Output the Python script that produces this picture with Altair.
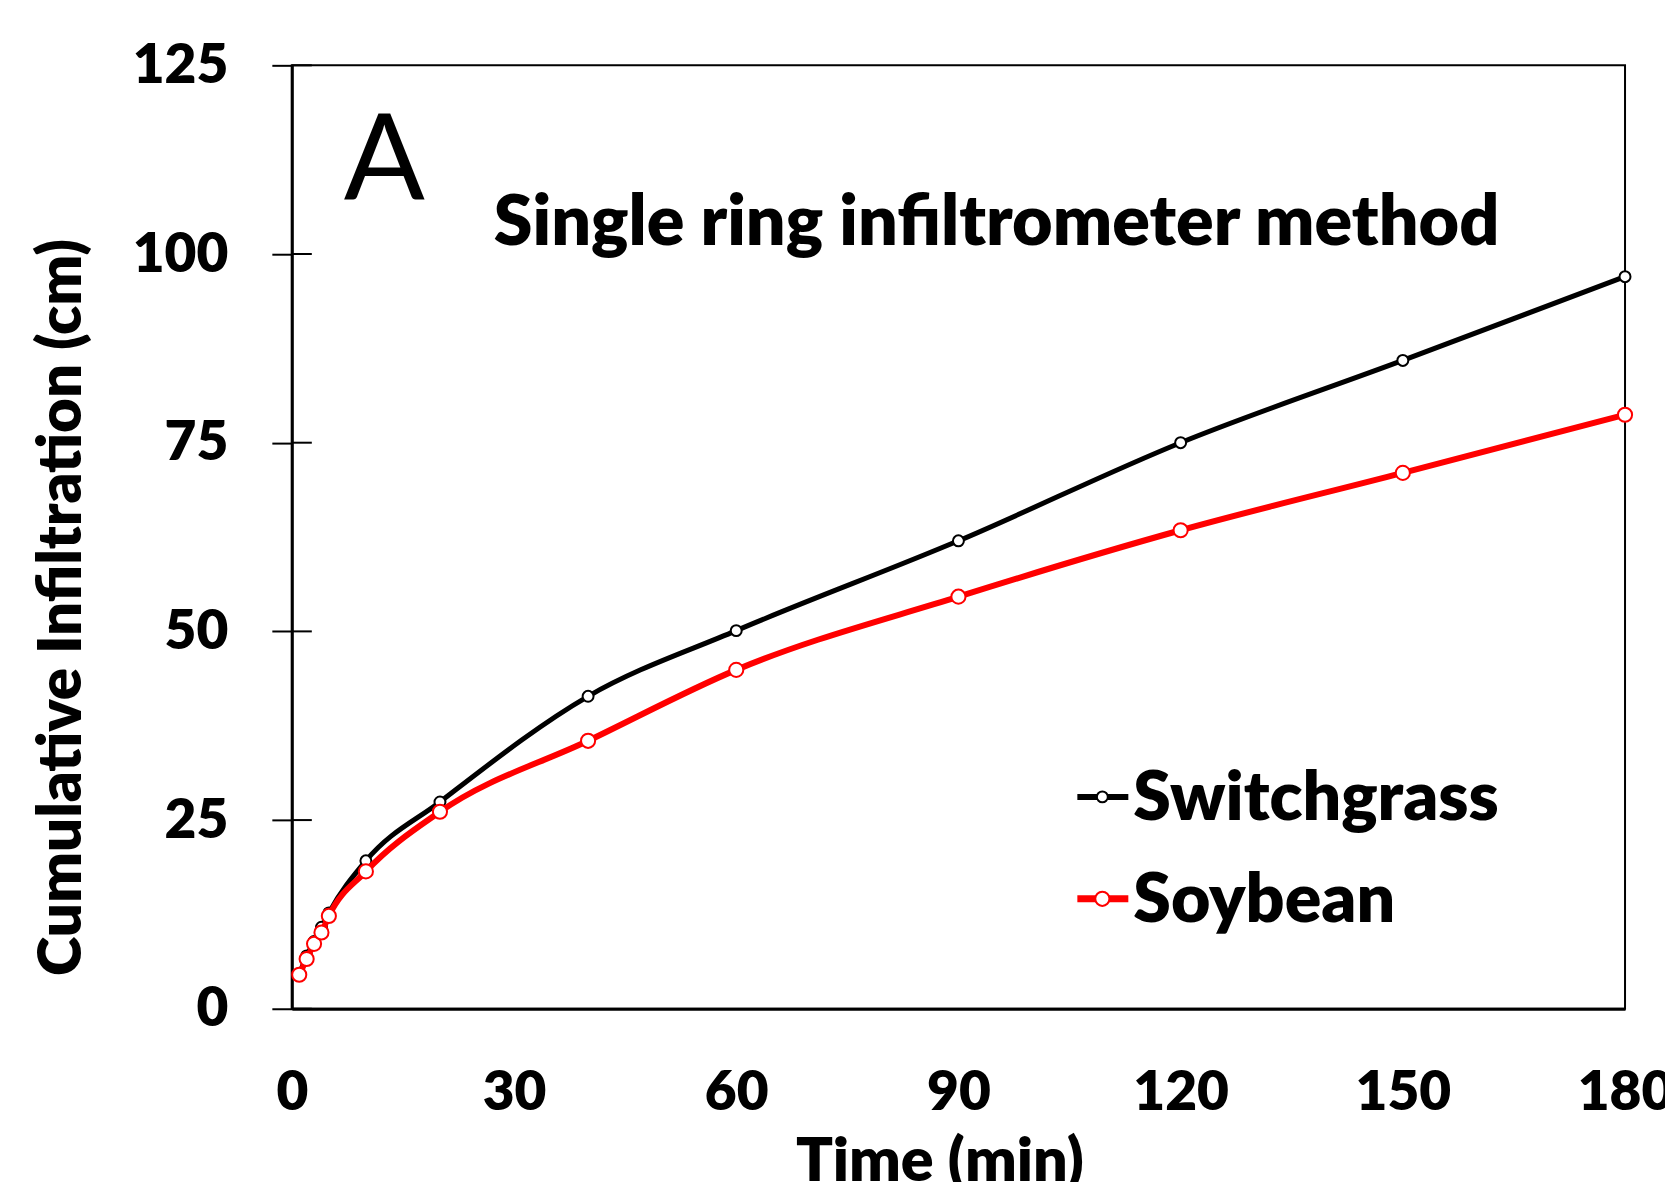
import altair as alt
import pandas as pd

time_min = [1, 2, 3, 4, 5, 10, 20, 40, 60, 90, 120, 150, 180]
switchgrass = [4.6, 7.0, 8.9, 10.8, 12.7, 19.6, 27.4, 41.4, 50.1, 62.0, 75.0, 85.9, 97.0]
soybean = [4.5, 6.6, 8.6, 10.1, 12.3, 18.2, 26.1, 35.5, 44.9, 54.6, 63.4, 71.0, 78.7]
series_names = ["Switchgrass", "Soybean"]
series_colors = ["#000000", "#ff0000"]
y_ticks = [0, 25, 50, 75, 100, 125]
x_ticks = [0, 30, 60, 90, 120, 150, 180]

df = pd.DataFrame({
    "t": time_min * 2,
    "v": switchgrass + soybean,
    "s": [series_names[0]] * len(time_min) + [series_names[1]] * len(time_min),
})
tick_df = pd.DataFrame({"v": y_ticks})
one = pd.DataFrame({"a": [0]})

W, H = 1334, 944
FONT = "Lato"
BOLD = 800

xs = alt.Scale(domain=[0, 180], nice=False)
ys = alt.Scale(domain=[0, 125], nice=False)

x_axis = alt.Axis(values=x_ticks, ticks=False, domainWidth=3, domainColor="black",
                  labelFont=FONT, labelFontSize=55, labelFontWeight=BOLD, labelColor="black",
                  labelPadding=58, labelFlush=False, grid=False,
                  title="Time (min)", titleFont=FONT, titleFontSize=61, titleFontWeight=BOLD,
                  titleColor="black", titleX=648, titleY=124, titleBaseline="top")
y_axis = alt.Axis(values=y_ticks, tickSize=20, tickWidth=2, tickColor="black",
                  domainWidth=3, domainColor="black",
                  labelFont=FONT, labelFontSize=55, labelFontWeight=BOLD, labelColor="black",
                  labelPadding=44, grid=False,
                  title="Cumulative Infiltration (cm)", titleFont=FONT, titleFontSize=60,
                  titleFontWeight=BOLD, titleColor="black", titleX=-198, titleY=542)

def series_layers(name, color, lw, msize):
    base = alt.Chart(df).transform_filter(alt.datum.s == name)
    line = base.mark_line(color=color, strokeWidth=lw, interpolate="monotone").encode(
        x=alt.X("t:Q", scale=xs, axis=x_axis), y=alt.Y("v:Q", scale=ys, axis=y_axis))
    pts = base.mark_point(shape="circle", filled=True, fill="white", stroke=color,
                          strokeWidth=2, size=msize, opacity=1).encode(
        x=alt.X("t:Q", scale=xs), y=alt.Y("v:Q", scale=ys))
    return [line, pts]

inner_ticks = alt.Chart(tick_df).mark_rule(color="black", strokeWidth=2).encode(
    x=alt.value(0), x2=alt.value(20), y=alt.Y("v:Q", scale=ys))

letter = alt.Chart(one).mark_text(text="A", font=FONT, fontSize=120, fontWeight="normal",
                                  align="left", baseline="alphabetic", color="black").encode(
    x=alt.value(52), y=alt.value(135))
subtitle = alt.Chart(one).mark_text(text="Single ring infiltrometer method", font=FONT,
                                    fontSize=70, fontWeight=BOLD, align="left",
                                    baseline="alphabetic", color="black").encode(
    x=alt.value(202), y=alt.value(180))

legend_layers = []
for name, color, ly, lw, ms in [(series_names[0], series_colors[0], 732, 5, 120),
                                (series_names[1], series_colors[1], 834, 6, 200)]:
    legend_layers.append(alt.Chart(one).mark_rule(color=color, strokeWidth=lw + 1).encode(
        x=alt.value(786), x2=alt.value(837), y=alt.value(ly)))
    legend_layers.append(alt.Chart(one).mark_point(shape="circle", filled=True, fill="white",
                                                   stroke=color, strokeWidth=2, size=ms,
                                                   opacity=1).encode(
        x=alt.value(811), y=alt.value(ly)))
    legend_layers.append(alt.Chart(one).mark_text(text=name, font=FONT, fontSize=68,
                                                  fontWeight=BOLD, align="left",
                                                  baseline="alphabetic", color="black").encode(
        x=alt.value(842), y=alt.value(ly + 23)))

layers = (series_layers(series_names[0], series_colors[0], 5, 120)
          + series_layers(series_names[1], series_colors[1], 6, 200)
          + [inner_ticks, letter, subtitle] + legend_layers)

chart = alt.layer(*layers).properties(
    width=W, height=H,
    autosize=alt.AutoSizeParams(type="none"),
    padding={"left": 284, "top": 57, "right": 40, "bottom": 200},
    background="white",
).configure_view(stroke="black", strokeWidth=2)

chart.save("out.html", embed_options={"renderer": "svg", "actions": False})
